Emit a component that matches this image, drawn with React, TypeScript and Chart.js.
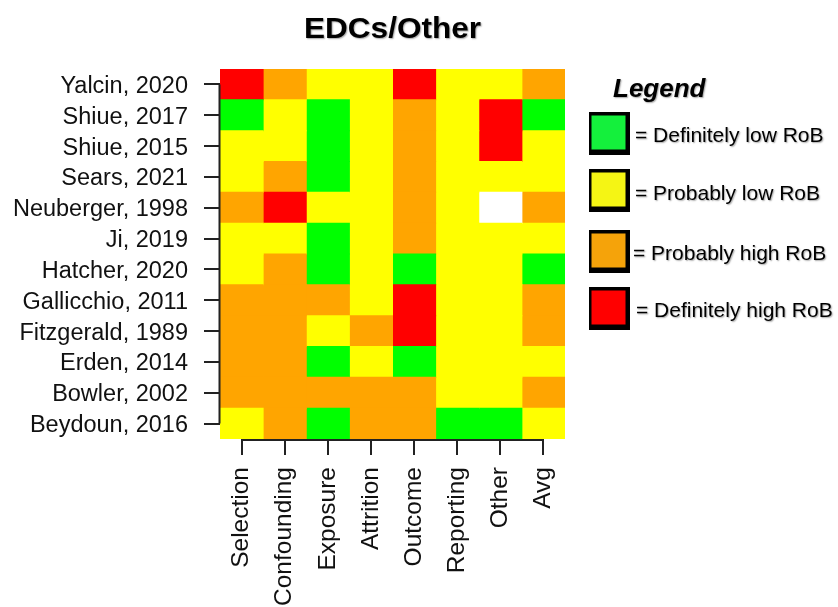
import React, { useEffect, useRef } from "react";
import { Chart, registerables } from "chart.js";
Chart.register(...registerables);

const FONT = "'Liberation Sans', Arial, Helvetica, sans-serif";

const titleText = "EDCs/Other";

const studies = [
  "Yalcin, 2020",
  "Shiue, 2017",
  "Shiue, 2015",
  "Sears, 2021",
  "Neuberger, 1998",
  "Ji, 2019",
  "Hatcher, 2020",
  "Gallicchio, 2011",
  "Fitzgerald, 1989",
  "Erden, 2014",
  "Bowler, 2002",
  "Beydoun, 2016",
];

const domains = ["Selection", "Confounding", "Exposure", "Attrition", "Outcome", "Reporting", "Other", "Avg"];

// 1 = definitely low, 2 = probably low, 3 = probably high, 4 = definitely high, 0 = not rated
const selection = [4, 1, 2, 2, 3, 2, 2, 3, 3, 3, 3, 2];
const confounding = [3, 2, 2, 3, 4, 2, 3, 3, 3, 3, 3, 3];
const exposure = [2, 1, 1, 1, 2, 1, 1, 3, 2, 1, 3, 1];
const attrition = [2, 2, 2, 2, 2, 2, 2, 2, 3, 2, 3, 3];
const outcome = [4, 3, 3, 3, 3, 3, 1, 4, 4, 1, 3, 3];
const reporting = [2, 2, 2, 2, 2, 2, 2, 2, 2, 2, 2, 1];
const other = [2, 4, 4, 2, 0, 2, 2, 2, 2, 2, 2, 1];
const avg = [3, 1, 2, 2, 3, 2, 1, 3, 3, 2, 3, 2];

const ratingColumns = [selection, confounding, exposure, attrition, outcome, reporting, other, avg];

const cellColors = ["#FFFFFF", "#00FF00", "#FFFF00", "#FFA500", "#FF0000"];

const legendTitle = "Legend";
const legendLabels = ["= Definitely low RoB", "= Probably low RoB", "= Probably high RoB", "= Definitely high RoB"];
const legendColors = ["#14F03C", "#F5F514", "#F5A30A", "#FF0000"];

const decorPlugin = {
  id: "decor",
  afterDraw(chart: any) {
    const ctx = chart.ctx;
    const area = chart.chartArea;
    const xs = chart.scales.x;
    const ys = chart.scales.y;
    ctx.save();
    // axis lines (R style: from first to last tick)
    ctx.strokeStyle = "#222";
    ctx.lineWidth = 2;
    ctx.beginPath();
    ctx.moveTo(area.left - 0.5, ys.getPixelForValue(0));
    ctx.lineTo(area.left - 0.5, ys.getPixelForValue(studies.length - 1));
    ctx.stroke();
    ctx.beginPath();
    ctx.moveTo(xs.getPixelForValue(0.5), area.bottom + 1);
    ctx.lineTo(xs.getPixelForValue(domains.length - 0.5), area.bottom + 1);
    ctx.stroke();

    // title (slightly widened like the reference)
    ctx.shadowColor = "rgba(0,0,0,0.35)";
    ctx.shadowOffsetX = 1;
    ctx.shadowOffsetY = 1;
    ctx.shadowBlur = 1.5;
    ctx.fillStyle = "#000";
    ctx.save();
    ctx.font = `bold 29px ${FONT}`;
    ctx.textAlign = "center";
    ctx.textBaseline = "alphabetic";
    const tw = ctx.measureText(titleText).width;
    const sx = 177 / tw;
    ctx.translate((area.left + area.right) / 2, 38);
    ctx.scale(sx, 1);
    ctx.fillText(titleText, 0, 0);
    ctx.restore();

    // legend
    ctx.textAlign = "left";
    ctx.textBaseline = "alphabetic";
    ctx.font = `italic bold 26px ${FONT}`;
    ctx.fillText(legendTitle, 613, 97);
    const boxTops = [112, 169, 230, 287];
    const baselines = [142, 200, 260, 317];
    const textX = [635, 635, 633, 636];
    ctx.font = `21px ${FONT}`;
    legendLabels.forEach((lab, i) => {
      ctx.shadowColor = "rgba(0,0,0,0)";
      ctx.fillStyle = "#000";
      ctx.fillRect(589, boxTops[i], 41, 43);
      ctx.fillStyle = legendColors[i];
      ctx.fillRect(591.5, boxTops[i] + 3.5, 34, 34);
      ctx.shadowColor = "rgba(0,0,0,0.35)";
      ctx.fillStyle = "#000";
      ctx.fillText(lab, textX[i], baselines[i]);
    });
    ctx.restore();
  },
};

export default function App() {
  const ref = useRef<HTMLCanvasElement>(null);
  useEffect(() => {
    document.body.style.margin = "0";
    const datasets = domains.map((d, j) => ({
      label: d,
      data: studies.map(() => [j, j + 1]),
      backgroundColor: ratingColumns[j].map((r) => cellColors[r]),
      borderWidth: 0,
      barPercentage: 1,
      categoryPercentage: 1,
      grouped: false,
      inflateAmount: 0.5,
    }));
    const chart = new Chart(ref.current!, {
      type: "bar",
      data: { labels: studies, datasets: datasets as any },
      plugins: [decorPlugin],
      options: {
        indexAxis: "y",
        responsive: false,
        animation: false,
        devicePixelRatio: 1,
        layout: { padding: { top: 69, right: 273, left: 0, bottom: 0 } },
        plugins: { legend: { display: false }, tooltip: { enabled: false }, title: { display: false } },
        scales: {
          y: {
            type: "category",
            offset: true,
            afterFit: (s: any) => {
              s.width = 220;
            },
            grid: { offset: false, drawOnChartArea: false, drawTicks: true, tickLength: 16, color: "#222", lineWidth: 2 },
            border: { display: false },
            ticks: { font: { family: FONT, size: 23.5 }, color: "#111", padding: 16, autoSkip: false, labelOffset: 2 },
          },
          x: {
            type: "linear",
            min: 0,
            max: domains.length,
            afterFit: (s: any) => {
              s.height = 168;
            },
            afterBuildTicks: (s: any) => {
              s.ticks = domains.map((_, j) => ({ value: j + 0.5 }));
            },
            grid: { drawOnChartArea: false, drawTicks: true, tickLength: 16, color: "#222", lineWidth: 2 },
            border: { display: false },
            ticks: {
              font: { family: FONT, size: 24.5 },
              color: "#111",
              padding: 12,
              autoSkip: false,
              minRotation: 90,
              maxRotation: 90,
              callback: (_v: any, i: number) => domains[i],
            },
          },
        },
      },
    });
    return () => chart.destroy();
  }, []);
  return (
    <div style={{ width: 838, height: 607 }}>
      <canvas ref={ref} width={838} height={607} style={{ display: "block" }} />
    </div>
  );
}
